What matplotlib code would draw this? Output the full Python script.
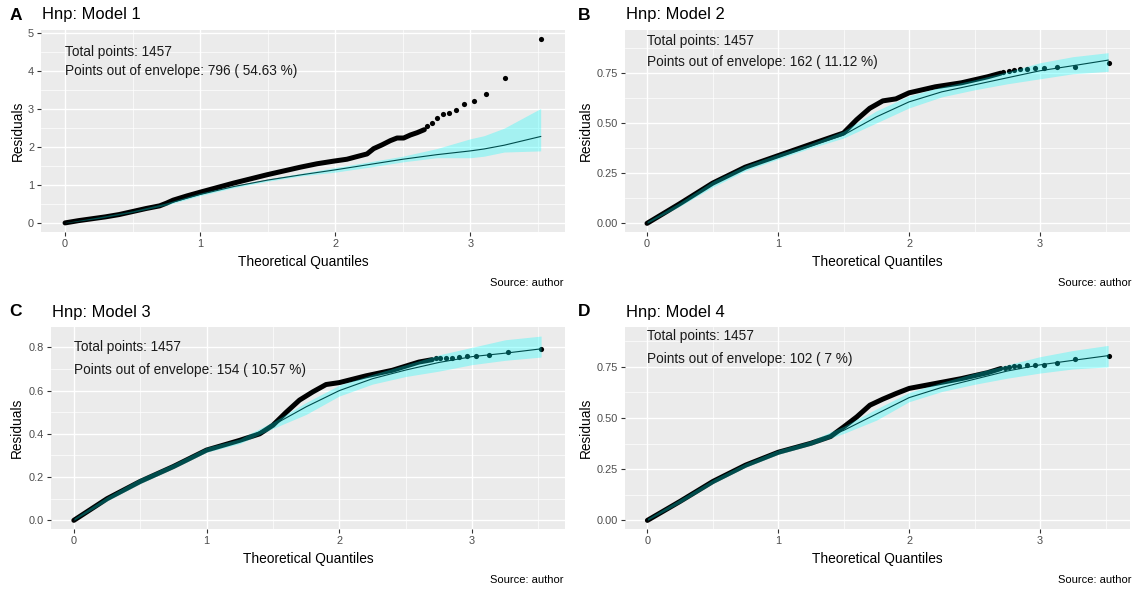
import numpy as np
import matplotlib
matplotlib.use("Agg")
import matplotlib.pyplot as plt

plt.rcParams["font.family"] = ["Liberation Sans", "DejaVu Sans"]

W, H = 1133, 590

# --------------------------
# Model 1 (panel A)
# --------------------------
a_obs_x = [0, 0.1, 0.2, 0.3, 0.4, 0.5, 0.6, 0.7, 0.75, 0.8, 0.9, 1.0, 1.247, 1.494, 1.741,
           1.864, 1.988, 2.086, 2.16, 2.235, 2.284, 2.346, 2.407, 2.457, 2.506, 2.556, 2.605, 2.659]
a_obs_y = [0, 0.06, 0.11, 0.16, 0.22, 0.3, 0.38, 0.45, 0.52, 0.6, 0.71, 0.81, 1.05, 1.27, 1.47,
           1.56, 1.63, 1.68, 1.75, 1.82, 1.96, 2.06, 2.17, 2.24, 2.24, 2.32, 2.38, 2.46]
a_tail_x = [2.68, 2.716, 2.75, 2.795, 2.842, 2.89, 2.953, 3.03, 3.119, 3.257, 3.524]
a_tail_y = [2.57, 2.63, 2.76, 2.87, 2.90, 2.99, 3.15, 3.22, 3.41, 3.82, 4.85]
a_env_x = [0, 0.25, 0.5, 0.75, 1.0, 1.25, 1.5, 1.75, 2.0, 2.25, 2.5, 2.75, 3.0, 3.1, 3.25, 3.52]
a_env_med = [0, 0.14, 0.3, 0.5, 0.75, 0.96, 1.13, 1.27, 1.40, 1.54, 1.68, 1.80, 1.90, 1.95, 2.05, 2.28]
a_env_lo = [0, 0.12, 0.28, 0.47, 0.72, 0.93, 1.10, 1.24, 1.34, 1.47, 1.61, 1.72, 1.72, 1.76, 1.87, 1.90]
a_env_hi = [0.01, 0.16, 0.32, 0.53, 0.79, 0.99, 1.16, 1.31, 1.46, 1.61, 1.76, 1.96, 2.22, 2.30, 2.50, 3.02]

# --------------------------
# Model 2 (panel B)
# --------------------------
b_obs_x = [0, 0.25, 0.5, 0.75, 1.0, 1.25, 1.5, 1.6, 1.7, 1.8, 1.9, 2.0, 2.2, 2.4, 2.6, 2.7]
b_obs_y = [0, 0.098, 0.20, 0.28, 0.337, 0.394, 0.45, 0.516, 0.573, 0.61, 0.62, 0.65, 0.68, 0.70, 0.73, 0.748]
b_tail_x = [2.72, 2.76, 2.80, 2.85, 2.90, 2.96, 3.03, 3.13, 3.27, 3.53]
b_tail_y = [0.755, 0.757, 0.763, 0.768, 0.770, 0.774, 0.775, 0.777, 0.780, 0.797]
b_env_x = [0, 0.25, 0.5, 0.75, 1.0, 1.25, 1.5, 1.75, 2.0, 2.25, 2.5, 2.75, 3.0, 3.25, 3.52]
b_env_med = [0, 0.095, 0.195, 0.275, 0.33, 0.385, 0.44, 0.53, 0.605, 0.655, 0.69, 0.725, 0.76, 0.785, 0.813]
b_env_lo = [0, 0.085, 0.18, 0.262, 0.32, 0.375, 0.425, 0.5, 0.575, 0.63, 0.665, 0.695, 0.72, 0.745, 0.757]
b_env_hi = [0.01, 0.105, 0.21, 0.288, 0.345, 0.398, 0.46, 0.56, 0.635, 0.68, 0.715, 0.755, 0.80, 0.83, 0.85]

# --------------------------
# Model 3 (panel C)
# --------------------------
c_obs_x = [0, 0.25, 0.5, 0.75, 1.0, 1.25, 1.4, 1.5, 1.6, 1.7, 1.8, 1.9, 2.0, 2.2, 2.4, 2.6, 2.7]
c_obs_y = [0, 0.10, 0.18, 0.249, 0.325, 0.37, 0.40, 0.44, 0.50, 0.556, 0.594, 0.628, 0.637, 0.668, 0.694, 0.732, 0.743]
c_tail_x = [2.73, 2.76, 2.80, 2.85, 2.90, 2.96, 3.03, 3.13, 3.27, 3.52]
c_tail_y = [0.751, 0.751, 0.751, 0.752, 0.757, 0.760, 0.760, 0.765, 0.778, 0.793]
c_env_x = [0, 0.25, 0.5, 0.75, 1.0, 1.25, 1.5, 1.75, 2.0, 2.25, 2.5, 2.75, 3.0, 3.25, 3.52]
c_env_med = [0, 0.1, 0.18, 0.25, 0.325, 0.365, 0.44, 0.525, 0.60, 0.655, 0.695, 0.73, 0.757, 0.773, 0.793]
c_env_lo = [0, 0.09, 0.17, 0.24, 0.315, 0.355, 0.425, 0.49, 0.575, 0.63, 0.665, 0.69, 0.72, 0.74, 0.755]
c_env_hi = [0.01, 0.11, 0.195, 0.262, 0.338, 0.377, 0.455, 0.545, 0.625, 0.675, 0.72, 0.765, 0.80, 0.835, 0.852]

# --------------------------
# Model 4 (panel D)
# --------------------------
d_obs_x = [0, 0.25, 0.5, 0.75, 1.0, 1.25, 1.4, 1.5, 1.6, 1.7, 1.8, 1.9, 2.0, 2.2, 2.4, 2.6, 2.7]
d_obs_y = [0, 0.093, 0.19, 0.27, 0.333, 0.377, 0.41, 0.457, 0.506, 0.563, 0.593, 0.62, 0.645, 0.669, 0.693, 0.722, 0.742]
d_tail_x = [2.73, 2.76, 2.80, 2.84, 2.90, 2.96, 3.03, 3.13, 3.27, 3.53]
d_tail_y = [0.745, 0.750, 0.756, 0.756, 0.760, 0.760, 0.760, 0.769, 0.787, 0.805]
d_env_x = [0, 0.25, 0.5, 0.75, 1.0, 1.25, 1.5, 1.75, 2.0, 2.25, 2.5, 2.75, 3.0, 3.25, 3.52]
d_env_med = [0, 0.095, 0.19, 0.27, 0.333, 0.378, 0.44, 0.52, 0.60, 0.65, 0.69, 0.73, 0.76, 0.782, 0.805]
d_env_lo = [0, 0.085, 0.18, 0.26, 0.323, 0.368, 0.425, 0.49, 0.58, 0.63, 0.665, 0.695, 0.72, 0.74, 0.75]
d_env_hi = [0.01, 0.105, 0.20, 0.28, 0.345, 0.39, 0.46, 0.545, 0.625, 0.675, 0.72, 0.76, 0.80, 0.83, 0.855]

panel_letters = ["A", "B", "C", "D"]
panel_titles = ["Hnp: Model 1", "Hnp: Model 2", "Hnp: Model 3", "Hnp: Model 4"]
total_points = 1457
out_counts = [796, 162, 154, 102]
out_pcts = ["54.63", "11.12", "10.57", "7"]

fig = plt.figure(figsize=(W / 100, H / 100), dpi=100)
fig.patch.set_facecolor("white")


def px_axes(l, t, r, b):
    return fig.add_axes([l / W, 1 - b / H, (r - l) / W, (b - t) / H])


def fig_text(x, y, s, **kw):
    fig.text(x / W, 1 - y / H, s, **kw)


def draw_panel(ax, obs_x, obs_y, tail_x, tail_y, env_x, lo, med, hi,
               xlim, ylim, yticks, yfmt, minor_y, ylab_x):
    ax.set_facecolor("#EBEBEB")
    for s in ax.spines.values():
        s.set_visible(False)
    ax.set_xlim(*xlim)
    ax.set_ylim(*ylim)
    ax.set_xticks([0, 1, 2, 3])
    ax.set_xticks([0.5, 1.5, 2.5, 3.5], minor=True)
    ax.set_yticks(yticks)
    ax.set_yticklabels([yfmt.format(v) for v in yticks])
    ax.set_yticks(minor_y, minor=True)
    ax.grid(True, which="major", color="white", lw=1.0)
    ax.grid(True, which="minor", color="white", lw=0.5)
    ax.set_axisbelow(True)
    ax.tick_params(which="major", length=2.9, width=0.8, color="#333333",
                   labelcolor="#4D4D4D", labelsize=7.9, pad=2)
    ax.tick_params(which="minor", length=0)

    # observed residuals: dense run drawn as a thick trace, sparse tail as dots
    ax.plot(obs_x, obs_y, color="black", lw=3.6, solid_capstyle="round",
            solid_joinstyle="round", zorder=2)
    ax.scatter(tail_x, tail_y, s=14, color="black", lw=0, zorder=2)
    ax.plot(env_x, med, color="black", lw=0.8, zorder=3)
    ax.fill_between(env_x, lo, hi, color="cyan", alpha=0.3, lw=0, zorder=4)

    ax.set_xlabel("Theoretical Quantiles", fontsize=9.9, color="black")
    ax.set_ylabel("Residuals", fontsize=9.9, color="black")
    ax.xaxis.set_label_coords(0.5, -0.114)
    ax.yaxis.set_label_coords(ylab_x, 0.5)


rects = [(41, 30, 565, 232), (625, 30, 1130, 232),
         (51, 327, 565, 529), (625, 327, 1130, 529)]

axA = px_axes(*rects[0])
draw_panel(axA, a_obs_x, a_obs_y, a_tail_x, a_tail_y, a_env_x, a_env_lo, a_env_med, a_env_hi,
           (-0.178, 3.70), (-0.24, 5.09), [0, 1, 2, 3, 4, 5], "{:g}",
           [0.5, 1.5, 2.5, 3.5, 4.5], -0.031)
axB = px_axes(*rects[1])
draw_panel(axB, b_obs_x, b_obs_y, b_tail_x, b_tail_y, b_env_x, b_env_lo, b_env_med, b_env_hi,
           (-0.168, 3.687), (-0.043, 0.963), [0, 0.25, 0.5, 0.75], "{:.2f}",
           [0.125, 0.375, 0.625, 0.875], -0.063)
axC = px_axes(*rects[2])
draw_panel(axC, c_obs_x, c_obs_y, c_tail_x, c_tail_y, c_env_x, c_env_lo, c_env_med, c_env_hi,
           (-0.172, 3.70), (-0.04, 0.894), [0, 0.2, 0.4, 0.6, 0.8], "{:.1f}",
           [0.1, 0.3, 0.5, 0.7], -0.053)
axD = px_axes(*rects[3])
draw_panel(axD, d_obs_x, d_obs_y, d_tail_x, d_tail_y, d_env_x, d_env_lo, d_env_med, d_env_hi,
           (-0.171, 3.687), (-0.042, 0.945), [0, 0.25, 0.5, 0.75], "{:.2f}",
           [0.125, 0.375, 0.625, 0.875], -0.063)

text_rows = [(4.5, 4.0), (0.91, 0.806), (0.8, 0.694), (0.90, 0.79)]
letter_pos = [(16, 15), (584, 15), (16, 312), (584, 312)]

for i, ax in enumerate([axA, axB, axC, axD]):
    y1, y2 = text_rows[i]
    ax.text(0, y1, f"Total points: {total_points}", fontsize=9.8, color="#1A1A1A",
            ha="left", va="center", zorder=5)
    ax.text(0, y2, f"Points out of envelope: {out_counts[i]} ( {out_pcts[i]} %)",
            fontsize=9.8, color="#1A1A1A", ha="left", va="center", zorder=5)
    l, t, r, b = rects[i]
    lx, ly = letter_pos[i]
    fig_text(lx, ly, panel_letters[i], fontsize=12.5, fontweight="bold", ha="center", va="center")
    fig_text(l + 1, ly, panel_titles[i], fontsize=11.9, ha="left", va="center")
    fig_text(r + (-1 if r < 600 else 1), b + 51, "Source: author", fontsize=8, ha="right", va="center")

fig.savefig("out.png", dpi=100)
